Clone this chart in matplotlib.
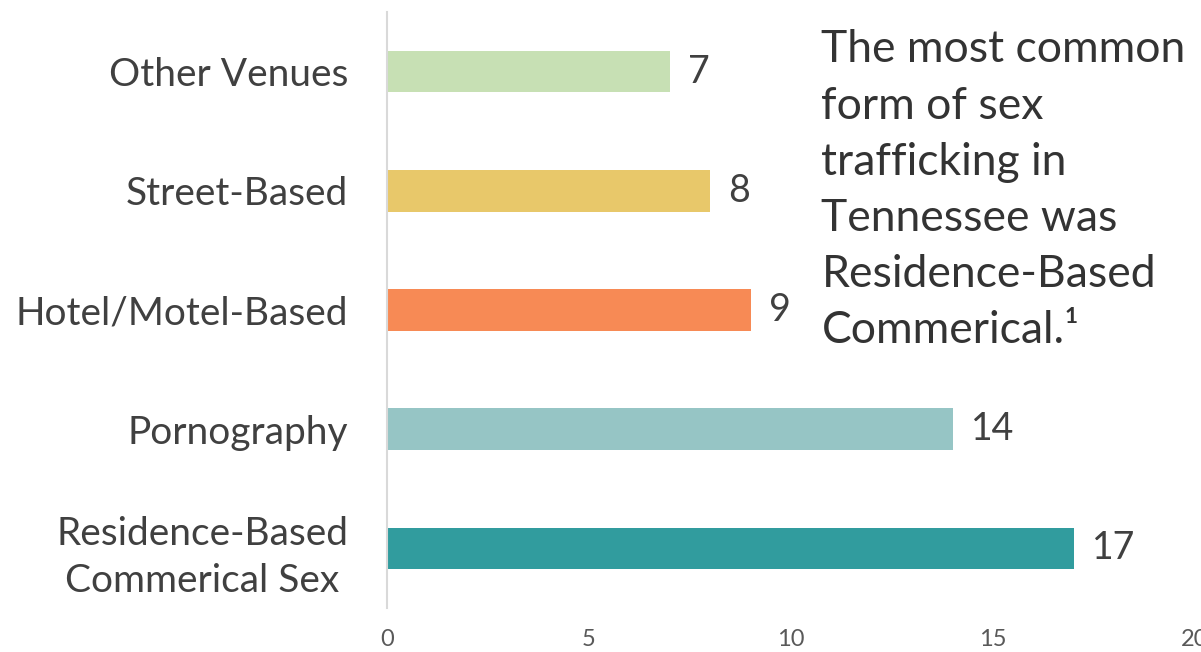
import matplotlib.pyplot as plt

# data, bottom to top
categories = ['Residence-Based\nCommerical Sex', 'Pornography', 'Hotel/Motel-Based',
              'Street-Based', 'Other Venues']
values = [17, 14, 9, 8, 7]
colors = ['#319C9E', '#96C5C5', '#F78A55', '#E8C86A', '#C7E0B4']
xticks = [0, 5, 10, 15, 20]

plt.rcParams['font.family'] = ['Lato', 'DejaVu Sans']

fig = plt.figure(figsize=(12.01, 6.52), dpi=100)
ax = fig.add_axes([0.3222, 0.0675, 0.6728, 0.9141])

ypos = list(range(len(categories)))
ax.barh(ypos, values, height=0.35, color=colors)
for y, v in zip(ypos, values):
    ax.text(v + 0.45, y, str(v), va='center', ha='left', fontsize=27, color='#404040')

ax.set_xlim(0, 20)
ax.set_ylim(-0.5, 4.5)
ax.set_yticks(ypos)
ax.set_yticklabels(categories, fontsize=28, color='#404040')
for lab in ax.get_yticklabels():
    lab.set_multialignment('center')
    lab.set_linespacing(1.4)
ax.set_xticks(xticks)
ax.set_xticklabels([str(t) for t in xticks], fontsize=17, color='#595959')
ax.tick_params(axis='y', length=0, pad=28)
ax.tick_params(axis='x', length=0, pad=15)

for s in ['top', 'right', 'bottom']:
    ax.spines[s].set_visible(False)
ax.spines['left'].set_color('#D9D9D9')
ax.spines['left'].set_linewidth(1.5)

fig.text(0.684, 0.955,
         'The most common\nform of sex\ntrafficking in\nTennessee was\nResidence-Based\nCommerical.\u00b9',
         ha='left', va='top', fontsize=32, color='#333333', linespacing=1.46)

fig.savefig('out.png', dpi=100)
